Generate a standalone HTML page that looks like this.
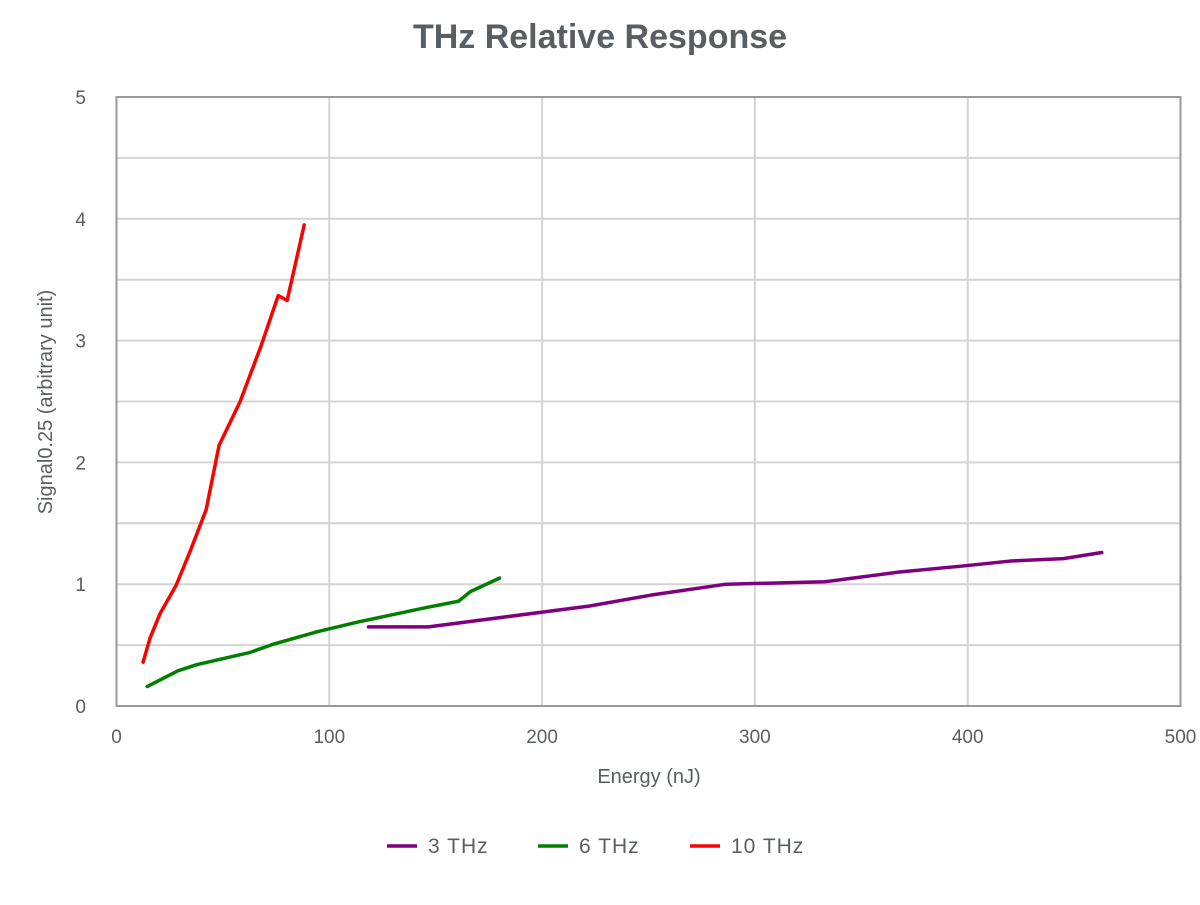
<!DOCTYPE html>
<html><head><meta charset="utf-8">
<style>
body{margin:0;background:#fff;font-family:"Liberation Sans",sans-serif;}
svg text{font-family:"Liberation Sans",sans-serif;}
</style></head>
<body>
<svg id="chart" width="1200" height="900" viewBox="0 0 1200 900" xmlns="http://www.w3.org/2000/svg">
<rect width="1200" height="900" fill="#fff"/>
<text x="600" y="48" text-anchor="middle" font-size="34" font-weight="bold" fill="#595e62">THz Relative Response</text>
<g id="grid"></g>
<rect x="116.5" y="97" width="1064" height="609" fill="none" stroke="#9a9a9a" stroke-width="2"/>
<g id="ticks"></g>
<g id="series"></g>
<text x="649" y="783" text-anchor="middle" font-size="20" fill="#595e62">Energy (nJ)</text>
<text transform="translate(52,402) rotate(-90)" text-anchor="middle" font-size="20" fill="#595e62">Signal0.25 (arbitrary unit)</text>
<g id="legend"></g>
</svg>
<script>
const xTicks=[0,100,200,300,400,500];
const yTicks=[0,1,2,3,4,5];
const seriesNames=["3 THz","6 THz","10 THz"];
const seriesColors=["#7f007f","#007f00","#ff0000"];
const x3=[118.4,146.6,222,251,286.4,333,368,398,420,445,463];
const y3=[0.65,0.65,0.82,0.91,1.0,1.02,1.10,1.15,1.19,1.21,1.26];
const x6=[14.4,29,37.9,62.8,74.1,94.4,113.6,146.1,160.7,166.4,180];
const y6=[0.16,0.29,0.34,0.44,0.51,0.61,0.69,0.81,0.86,0.94,1.05];
const x10=[12.5,15.8,20.5,28,34.6,42.1,48.2,58.1,68,76,80.2,88.2];
const y10=[0.36,0.56,0.76,0.99,1.27,1.61,2.14,2.50,2.96,3.37,3.33,3.95];
const NS="http://www.w3.org/2000/svg";
const X0=116.5,X1=1180.5,Y0=706,Y1=97;
const sx=v=>X0+(v-0)/(500-0)*(X1-X0);
const sy=v=>Y0-(v-0)/(5-0)*(Y0-Y1);
function mk(t,a,p){const e=document.createElementNS(NS,t);for(const k in a)e.setAttribute(k,a[k]);p.appendChild(e);return e;}
const grid=document.getElementById('grid'),ticks=document.getElementById('ticks');
for(let v=0.5;v<5;v+=0.5){const l=mk('line',{x1:X0,x2:X1,y1:sy(v),y2:sy(v),stroke:'#d4d4d4','stroke-width':2},grid);

}
xTicks.forEach(v=>{if(v>0&&v<500){const l=mk('line',{x1:sx(v),x2:sx(v),y1:Y1,y2:Y0,stroke:'#d4d4d4','stroke-width':2},grid);

}
const t=mk('text',{x:sx(v),y:743,'text-anchor':'middle','font-size':19,fill:'#595e62'},ticks);t.textContent=v;

});
yTicks.forEach(v=>{const t=mk('text',{x:86,y:sy(v)+7,'text-anchor':'end','font-size':19,fill:'#595e62'},ticks);t.textContent=v;

});
const ser=document.getElementById('series');
[[x3,y3],[x6,y6],[x10,y10]].forEach((d,i)=>{const pts=d[0].map((x,j)=>sx(x)+','+sy(d[1][j])).join(' ');
const p=mk('polyline',{points:pts,fill:'none',stroke:seriesColors[i],'stroke-width':3.5,'stroke-linejoin':'round','stroke-linecap':'round'},ser);

});
const leg=document.getElementById('legend');const lx=[387,538,690];
seriesNames.forEach((n,i)=>{const g=mk('g',{},leg);


mk('line',{x1:lx[i],x2:lx[i]+30,y1:846,y2:846,stroke:seriesColors[i],'stroke-width':3.5},g);
const t=mk('text',{x:lx[i]+41,y:853,'font-size':21,fill:'#595e62','letter-spacing':'1'},g);t.textContent=n;});
</script>
</body></html>
